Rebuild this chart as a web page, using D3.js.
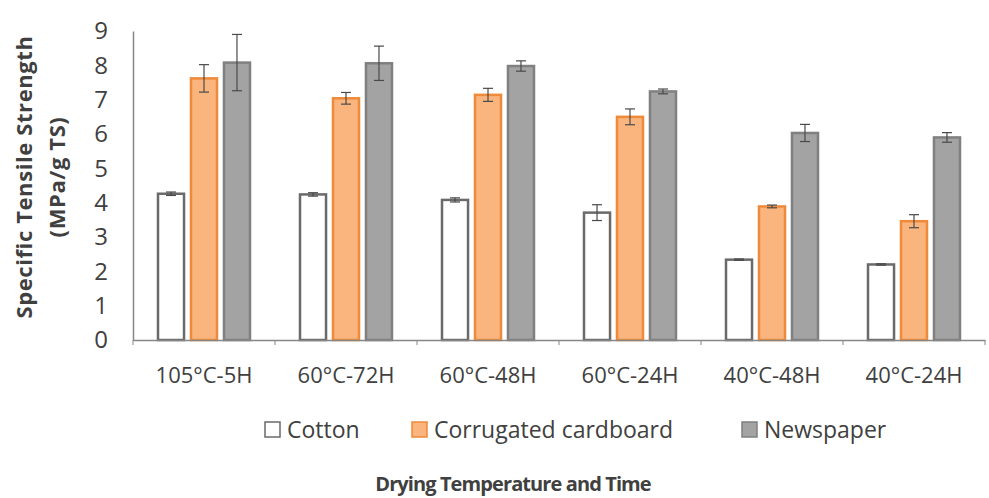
<!DOCTYPE html>
<html>
<head>
<meta charset="utf-8">
<script src="https://d3js.org/d3.v7.min.js"></script>
<style>
  body { margin: 0; background: #fff; }
  text { font-family: "Open Sans", "DejaVu Sans", sans-serif; }
</style>
</head>
<body>
<script>
// categories and series
var categories = ["105°C-5H", "60°C-72H", "60°C-48H", "60°C-24H", "40°C-48H", "40°C-24H"];
var seriesNames = ["Cotton", "Corrugated cardboard", "Newspaper"];
var cotton    = [4.26, 4.24, 4.08, 3.71, 2.34, 2.20];
var cardboard = [7.62, 7.04, 7.14, 6.50, 3.89, 3.46];
var newspaper = [8.08, 8.06, 7.98, 7.24, 6.03, 5.90];
var cottonErr    = [0.05, 0.05, 0.06, 0.23, 0.02, 0.02];
var cardboardErr = [0.40, 0.17, 0.19, 0.23, 0.04, 0.19];
var newspaperErr = [0.82, 0.50, 0.15, 0.07, 0.25, 0.14];
var yTicks = [0, 1, 2, 3, 4, 5, 6, 7, 8, 9];

var W = 989, H = 498;
var margin = {top: 31, right: 4, bottom: 158, left: 133};

var fills   = ["#ffffff", "#f9b57d", "#a3a3a3"];
var strokes = ["#6a6a6a", "#ee8a3a", "#808080"];

var svg = d3.select("body").append("svg")
    .attr("width", W)
    .attr("height", H);

var x = d3.scaleBand()
    .domain(categories)
    .range([margin.left, W - margin.right]);

var xs = d3.scaleBand()
    .domain(seriesNames)
    .range([24, 118])
    .paddingInner(0.15);

var y = d3.scaleLinear()
    .domain([0, 9])
    .range([H - margin.bottom, margin.top]);

var vals = [cotton, cardboard, newspaper];
var errs = [cottonErr, cardboardErr, newspaperErr];

var rows = [];
categories.forEach(function(c, i) {
    seriesNames.forEach(function(s, j) {
        rows.push({cat: c, s: s, j: j, v: vals[j][i], e: errs[j][i]});
    });
});

// bars
svg.append("g").selectAll("rect")
    .data(rows).enter()
    .append("rect")
    .attr("x", d => x(d.cat) + xs(d.s) + 1)
    .attr("y", d => y(d.v))
    .attr("width", xs.bandwidth() - 2)
    .attr("height", d => y(0) - y(d.v))
    .attr("fill", d => fills[d.j])
    .attr("stroke", d => strokes[d.j])
    .attr("stroke-width", 2.5);

// error bars
var eb = svg.append("g").attr("stroke", "#4a4a4a").attr("stroke-width", 1.2);
rows.forEach(function(d) {
    var cx = x(d.cat) + xs(d.s) + xs.bandwidth() / 2;
    eb.append("line").attr("x1", cx).attr("x2", cx)
        .attr("y1", y(d.v + d.e)).attr("y2", y(d.v - d.e));
    [d.v + d.e, d.v - d.e].forEach(function(v) {
        eb.append("line").attr("x1", cx - 5).attr("x2", cx + 5)
            .attr("y1", y(v)).attr("y2", y(v));
    });
});

// y axis
var yAxis = svg.append("g")
    .attr("transform", "translate(" + margin.left + ",0)")
    .call(d3.axisLeft(y).tickValues(yTicks).tickSize(0).tickPadding(25));
yAxis.select(".domain").attr("stroke", "#868686").attr("stroke-width", 1.5);
yAxis.selectAll("text").attr("font-size", 24).attr("fill", "#404040")
    .style("font-family", "'Open Sans', sans-serif");

// x axis
var xAxis = svg.append("g")
    .attr("transform", "translate(0," + y(0) + ")")
    .call(d3.axisBottom(x).tickSize(0).tickPadding(26));
xAxis.select(".domain").attr("stroke", "#868686").attr("stroke-width", 1.5);
xAxis.selectAll("text").attr("font-size", 22).attr("fill", "#404040")
    .attr("dy", "0.75em")
    .style("font-family", "'Open Sans', sans-serif");
// boundary ticks between categories
xAxis.selectAll(".bnd")
    .data(categories.concat(["end"])).enter()
    .append("line")
    .attr("x1", (d, i) => margin.left + i * x.step())
    .attr("x2", (d, i) => margin.left + i * x.step())
    .attr("y1", 0).attr("y2", 5)
    .attr("stroke", "#868686");

// y title
var yt = svg.append("text")
    .attr("transform", "translate(32,177) rotate(-90)")
    .attr("text-anchor", "middle")
    .attr("font-weight", "bold")
    .attr("font-size", 22)
    .attr("letter-spacing", 0.6)
    .attr("fill", "#404040");
yt.append("tspan").attr("x", 0).attr("dy", 0).text("Specific Tensile Strength");
yt.append("tspan").attr("x", 0).attr("dy", 33).text("(MPa/g TS)");

// legend
var legX = [264, 411, 741];
var leg = svg.append("g");
seriesNames.forEach(function(s, j) {
    leg.append("rect")
        .attr("x", legX[j] + 1).attr("y", 422)
        .attr("width", 15).attr("height", 15)
        .attr("fill", fills[j]).attr("stroke", strokes[j]).attr("stroke-width", 1.5);
    leg.append("text")
        .attr("x", legX[j] + 23).attr("y", 430)
        .attr("dy", "0.36em")
        .attr("font-size", 23).attr("fill", "#404040")
        .text(s);
});

// x title
svg.append("text")
    .attr("x", 513).attr("y", 484)
    .attr("dy", "0.36em")
    .attr("text-anchor", "middle")
    .attr("font-weight", "bold")
    .attr("font-size", 20)
    .attr("letter-spacing", -0.9)
    .attr("fill", "#404040")
    .text("Drying Temperature and Time");
</script>
</body>
</html>
